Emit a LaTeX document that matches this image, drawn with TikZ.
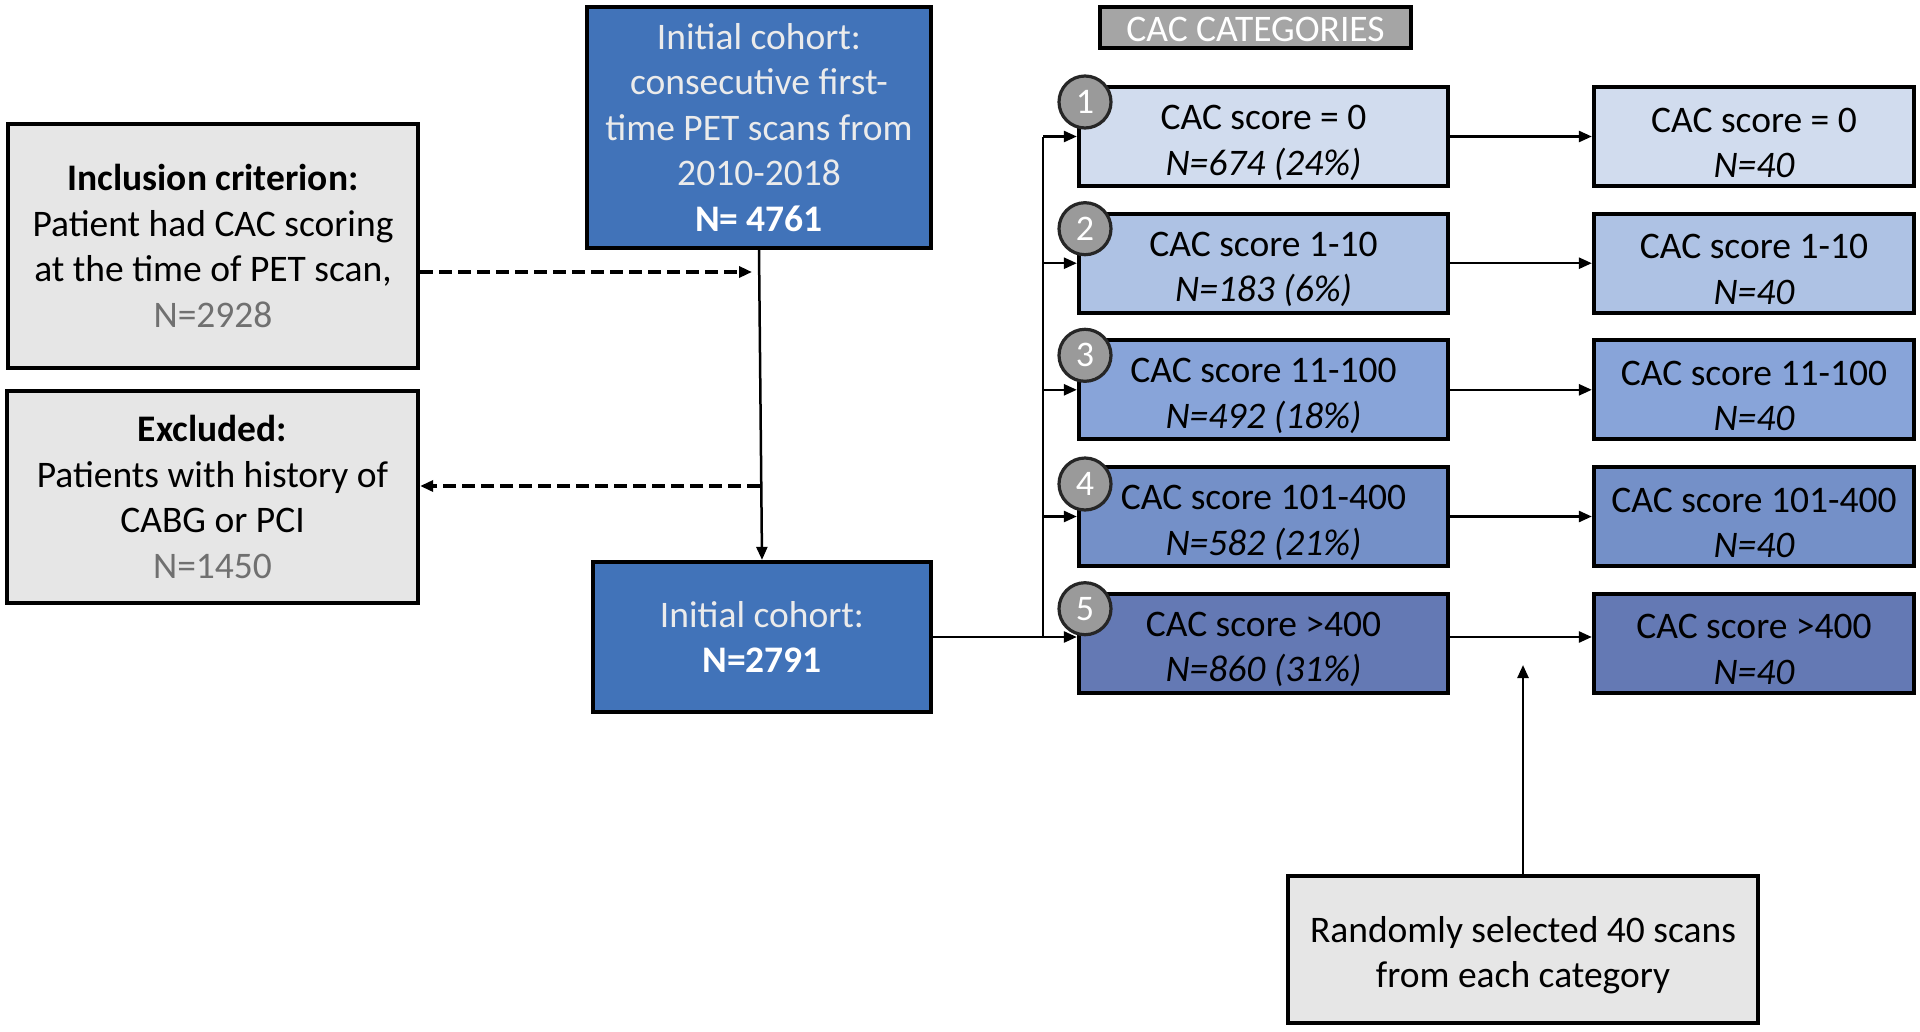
\documentclass[tikz,border=0pt]{standalone}
\usepackage{fontspec}
\setmainfont{Carlito}
\usetikzlibrary{arrows.meta}
\definecolor{topblue}{HTML}{4173B9}
\definecolor{boxgray}{HTML}{E6E6E6}
\definecolor{hdrgray}{HTML}{A5A5A5}
\definecolor{numgray}{HTML}{707070}
\definecolor{catA}{HTML}{D1DCEE}
\definecolor{catB}{HTML}{AEC2E4}
\definecolor{catC}{HTML}{88A4D9}
\definecolor{catD}{HTML}{7490C8}
\definecolor{catE}{HTML}{6479B4}
\definecolor{circgray}{HTML}{9A9A9A}
\newcommand\tup{\rule{0pt}{37pt}}
\tikzset{
  box/.style={draw=black, line width=4.3pt, align=center, inner sep=0pt,
    font=\fontsize{37.5}{45.5}\selectfont},
  graybox/.style={box, fill=boxgray},
  bluebox/.style={box, fill=topblue, text=white},
  catbox/.style={box, minimum width=369pt, minimum height=99pt},
  resbox/.style={box, minimum width=320pt, minimum height=99pt},
  numc/.style={circle, draw=black!85, line width=3.2pt, fill=circgray, text=white,
    minimum size=52pt, inner sep=0pt, font=\fontsize{36}{40}\selectfont},
  conn/.style={line width=2.5pt, -{Triangle[length=13pt,width=11pt]}},
  plainline/.style={line width=2.5pt},
  dconn/.style={line width=3.2pt, dash pattern=on 13pt off 6pt, -{Triangle[length=13pt,width=11pt]}}
}
\begin{document}
\begin{tikzpicture}[x=1pt,y=-1pt]
\useasboundingbox (0,0) rectangle (1920,1031);

% left column
\node[graybox, minimum width=410pt, minimum height=244pt] (incl) at (213,246)
  {\textbf{Inclusion criterion:}\\Patient had CAC scoring\\at the time of PET scan,\\{\color{numgray}N=2928}};
\node[graybox, minimum width=411pt, minimum height=212pt] (excl) at (212.5,497)
  {\textbf{Excluded:}\\Patients with history of\\CABG or PCI\\{\color{numgray}N=1450}};

% center column
\node[bluebox, minimum width=344pt, minimum height=241pt] (top) at (759,127.5)
  {{\color{white!92!black}Initial cohort:}\\{\color{white!92!black}consecutive first-}\\{\color{white!92!black}time PET scans from}\\{\color{white!92!black}2010-2018}\\\textbf{N= 4761}};
\node[bluebox, minimum width=338pt, minimum height=150pt] (cohort) at (762,637)
  {{\color{white!92!black}Initial cohort:}\\\textbf{N=2791}};

% header
\node[box, fill=hdrgray, text=white, minimum width=311pt, minimum height=41pt] (hdr) at (1255.5,27.5) {\rule{0pt}{29pt}CAC CATEGORIES};

% category boxes
\node[catbox, fill=catA] (c1) at (1263.5,136.5) {\tup CAC score = 0\\\textit{N=674 (24\%)}};
\node[catbox, fill=catB] (c2) at (1263.5,263.2) {\tup CAC score 1-10\\\textit{N=183 (6\%)}};
\node[catbox, fill=catC] (c3) at (1263.5,389.8) {\tup CAC score 11-100\\\textit{N=492 (18\%)}};
\node[catbox, fill=catD] (c4) at (1263.5,516.5) {\tup CAC score 101-400\\\textit{N=582 (21\%)}};
\node[catbox, fill=catE] (c5) at (1263.5,643.2) {\tup CAC score >400\\\textit{N=860 (31\%)}};

\node[resbox, fill=catA] (r1) at (1754,136.5) {\tup CAC score = 0\\\textit{N=40}};
\node[resbox, fill=catB] (r2) at (1754,263.2) {\tup CAC score 1-10\\\textit{N=40}};
\node[resbox, fill=catC] (r3) at (1754,389.8) {\tup CAC score 11-100\\\textit{N=40}};
\node[resbox, fill=catD] (r4) at (1754,516.5) {\tup CAC score 101-400\\\textit{N=40}};
\node[resbox, fill=catE] (r5) at (1754,643.2) {\tup CAC score >400\\\textit{N=40}};

% number circles
\node[numc] (n1) at (1085,102) {1};
\node[numc] (n2) at (1085,228.7) {2};
\node[numc] (n3) at (1085,355.3) {3};
\node[numc] (n4) at (1085,484) {4};
\node[numc] (n5) at (1085,608.7) {5};

% random selection
\node[graybox, minimum width=470pt, minimum height=147pt] (rand) at (1523,949.5)
  {\tup Randomly selected 40 scans\\from each category};

% connectors
\draw[conn] (top.south) -- (cohort.north);
\coordinate (d1) at (752,272);
\coordinate (d2) at (760,486);
\draw[dconn] (incl.east |- d1) -- (d1);
\draw[dconn] (d2) -- (excl.east |- d2);

\coordinate (bus) at (1043,637);
\coordinate (bustop) at (1043,136.5);
\draw[plainline] (cohort.east) -- (bus);
\draw[plainline] (bus) -- (bustop);
\draw[conn] (bus) -- (c5.west |- bus);
\draw[conn] (bustop) -- (c1.west);
\draw[conn] (bus |- c2.west) -- (c2.west);
\draw[conn] (bus |- c3.west) -- (c3.west);
\draw[conn] (bus |- c4.west) -- (c4.west);

\draw[conn] (c1.east) -- (r1.west);
\draw[conn] (c2.east) -- (r2.west);
\draw[conn] (c3.east) -- (r3.west);
\draw[conn] (c4.east) -- (r4.west);
\draw[conn] (c5.east |- bus) -- (r5.west |- bus);

\coordinate (up) at (1523,665);
\draw[conn] (rand.north) -- (up);
\end{tikzpicture}
\end{document}
